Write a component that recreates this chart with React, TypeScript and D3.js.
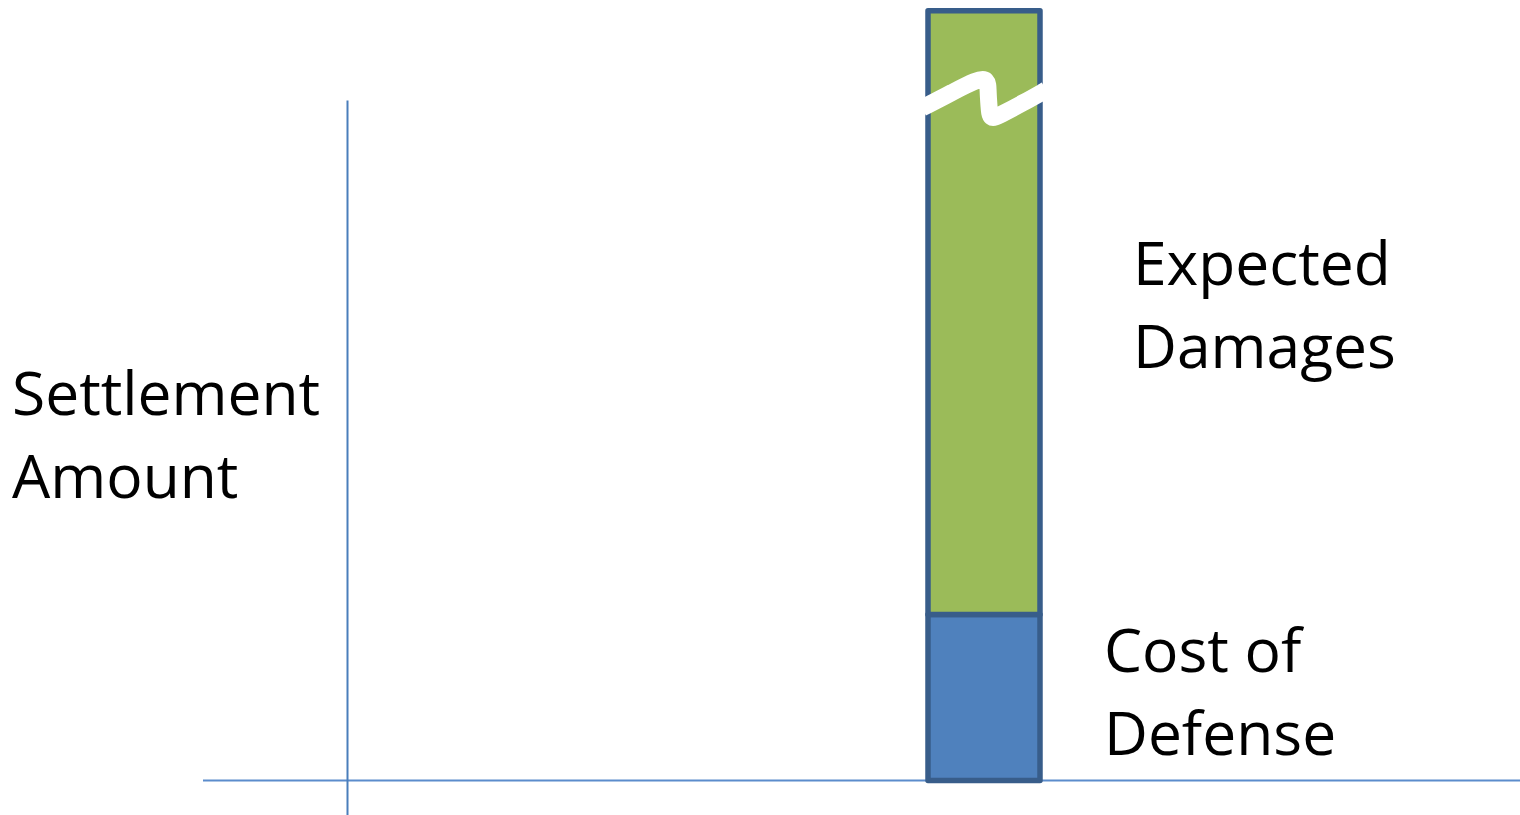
import React, { useEffect, useRef } from 'react';
import * as d3 from 'd3';

// chart values (arbitrary units, bar is drawn with a break in the tall segment)
const categories = ['Settlement'];
const seriesKeys = ['costOfDefense', 'expectedDamages'];
const costOfDefense = [24.4];
const expectedDamages = [88.8];
const seriesColors = ['#4f81bd', '#9bbb59'];

const segmentLabels = [
  { key: 'expectedDamages', lines: ['Expected', 'Damages'] },
  { key: 'costOfDefense', lines: ['Cost of', 'Defense'] },
];
const axisLabel = ['Settlement', 'Amount'];

const W = 1520;
const H = 815;

const App: React.FC = () => {
  const svgRef = useRef<SVGSVGElement>(null);

  useEffect(() => {
    if (!svgRef.current) return;
    const svg = d3.select(svgRef.current);
    svg.selectAll('*').remove();

    const axisX = 347.5;
    const baseY = 780.5;

    const y = d3.scaleLinear().domain([0, 100]).range([baseY, 100.5]);
    const x = d3.scaleBand<string>().domain(categories).range([928, 1040]);

    const rows = categories.map((c, i) => ({
      category: c,
      costOfDefense: costOfDefense[i],
      expectedDamages: expectedDamages[i],
    }));
    const stacked = d3.stack<any>().keys(seriesKeys)(rows);

    // axes
    svg.append('line')
      .attr('x1', 203).attr('x2', W)
      .attr('y1', baseY).attr('y2', baseY)
      .attr('stroke', '#5b8ccc').attr('stroke-width', 2);
    svg.append('line')
      .attr('x1', axisX).attr('x2', axisX)
      .attr('y1', y(100)).attr('y2', H)
      .attr('stroke', '#4a7ebb').attr('stroke-width', 2);

    // stacked bar
    stacked.forEach((s, si) => {
      svg.selectAll(`rect.s${si}`)
        .data(s)
        .enter().append('rect')
        .attr('class', `s${si}`)
        .attr('x', (d: any) => x(d.data.category)!)
        .attr('width', x.bandwidth())
        .attr('y', (d: any) => y(d[1]))
        .attr('height', (d: any) => y(d[0]) - y(d[1]))
        .attr('fill', seriesColors[si])
        .attr('stroke', '#385d8a')
        .attr('stroke-width', 5.5)
        .attr('stroke-linejoin', 'round');
    });

    // break mark across the tall segment
    const bx = x(categories[0])!;
    const bw = x.bandwidth();
    const breakLine = d3.line().curve(d3.curveBasis);
    svg.append('path')
      .attr('d', breakLine([
        [bx - 6, 108], [bx + 25, 92], [bx + 48, 80], [bx + 60, 78],
        [bx + 60, 92], [bx + 61, 106], [bx + 62, 120], [bx + 72, 115],
        [bx + 95, 103], [bx + bw + 6, 90],
      ]))
      .attr('fill', 'none')
      .attr('stroke', '#ffffff')
      .attr('stroke-width', 17);

    const font = "'Open Sans', sans-serif";
    const fs = 60.5;
    const lineH = 83;

    // y-axis label
    svg.append('text')
      .attr('font-family', font).attr('font-size', fs)
      .selectAll('tspan')
      .data(axisLabel)
      .enter().append('tspan')
      .attr('x', 12)
      .attr('y', (_d, i) => 415 + i * lineH)
      .text(d => d);

    // segment labels
    const top = stacked[1][0];
    const bottom = stacked[0][0];
    const labelPos: Record<string, { x: number; y: number }> = {
      expectedDamages: { x: 1133, y: (y(top[0]) + y(100)) / 2 - 73 },
      costOfDefense: { x: 1104, y: (y(bottom[0]) + y(bottom[1])) / 2 - 26 },
    };
    segmentLabels.forEach(l => {
      svg.append('text')
        .attr('font-family', font).attr('font-size', fs)
        .selectAll('tspan')
        .data(l.lines)
        .enter().append('tspan')
        .attr('x', labelPos[l.key].x)
        .attr('y', (_d, i) => labelPos[l.key].y + i * lineH)
        .text(d => d);
    });
  }, []);

  return (
    <div style={{ position: 'fixed', left: 0, top: 0, width: W, height: H, background: '#fff' }}>
      <svg ref={svgRef} width={W} height={H} />
    </div>
  );
};

export default App;
